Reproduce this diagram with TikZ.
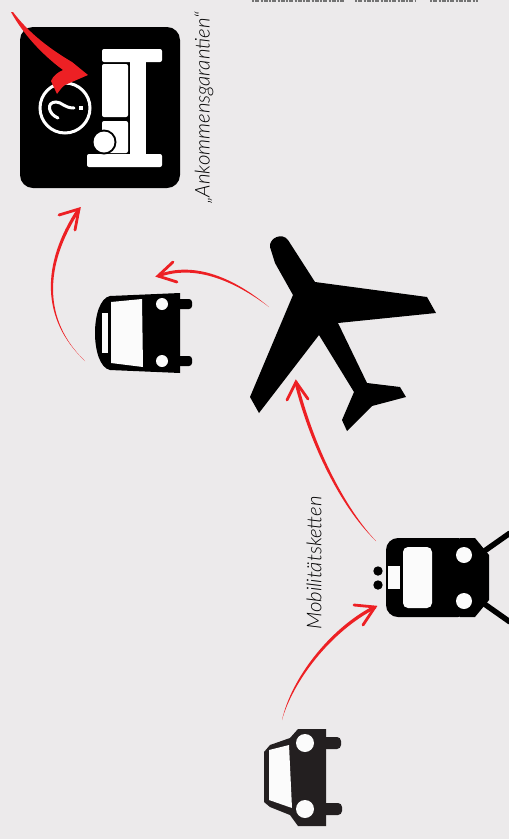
\documentclass[tikz,border=0pt]{standalone}
\usepackage{fontspec}
\newfontfamily\labelfont{Lato}[UprightFont=* Light,ItalicFont=* Light Italic]
\usetikzlibrary{calc}
\definecolor{paper1}{RGB}{236, 234, 235}
\definecolor{red1}{RGB}{237, 32, 36}
\definecolor{ink1}{RGB}{0, 0, 0}
\definecolor{car1}{RGB}{35, 31, 32}
\tikzset{
  icon/.style={fill=ink1},
  cutout/.style={fill=paper1!20!white},
  flow/.style={fill=red1},
  flowhead/.style={draw=red1, line width=2.8pt, line cap=round, line join=miter},
  caption/.style={font=\labelfont\itshape\fontsize{20.4}{20.4}\selectfont, rotate=90, text=black, inner sep=0pt}
}
% tail, two controls, tip, first barb, second barb, half width
\newcommand{\flowarrow}[7]{
  \fill[flow] (#1) .. controls ($#2+0.8*#7$) and ($#3+0.9*#7$) .. ($(#4)+#7$) -- ($(#4)-#7$) .. controls ($#3-0.9*#7$) and ($#2-0.8*#7$) .. (#1);
  \draw[flowhead] (#5) -- (#4) -- (#6);
}
\begin{document}
\begin{tikzpicture}[x=1pt, y=-1pt]
  \useasboundingbox (0,0) rectangle (509,839);
  \fill[paper1] (0,0) rectangle (509,839);

  % cut off line at the top
  \foreach \from/\to in {252/345, 355/415, 430/478}
    \draw[black!55, line width=2.5pt, dash pattern=on 2pt off 1pt on 4pt off 1.5pt] (\from,1) -- (\to,1);

  % arrival box
  \fill[icon] (20,27) [rounded corners=13pt] rectangle (180,188);
  \begin{scope}[cutout/.append style={fill=white}]
    \fill[cutout, rounded corners=2pt] (102,49) rectangle (162,62);
    \fill[cutout] (129.5,60) rectangle (146,156);
    \fill[cutout, rounded corners=2pt] (87,154) rectangle (162,167);
    \fill[cutout, rounded corners=2pt] (102,64) rectangle (128,117);
    \fill[cutout, rounded corners=2pt] (102,121) rectangle (128,153);
    \fill[ink1] (104,142) circle (12.5);
    \fill[cutout] (104,142) circle (10.5);
    \draw[white, line width=3pt] (65,108) circle (25);
    \draw[white, line width=3pt, line cap=round] (58,118) .. controls (48,114) and (46,102) .. (56,102) .. controls (62,102) and (64,108) .. (74,108);
    \fill[white] (79,106) rectangle (83,110);
  \end{scope}

  % bus
  \fill[icon] (180,293) -- (110,296) .. controls (90,300) and (90,366) .. (110,370) -- (180,373) -- cycle;
  \fill[icon, rounded corners=3pt] (175,299) rectangle (192,309);
  \fill[icon, rounded corners=3pt] (175,356) rectangle (192,366);
  \fill[cutout] (111,302) -- (142,299) -- (143,367) -- (111,363) -- cycle;
  \fill[cutout] (102,313) rectangle (108,353);
  \fill[cutout] (162,304) circle (6);
  \fill[cutout] (162,361) circle (6);

  % plane
  \fill[icon] (270,247) .. controls (269,238) and (282,232) .. (288,240) -- (315,282) -- (427,297) -- (436,313)
    -- (338,323) -- (367,383) -- (400,387) -- (406,397) -- (372,406) -- (347,431) -- (342,420) -- (354,392)
    -- (319,335) -- (259,413) -- (250,397) -- (293,295) -- (275,263) -- cycle;

  % train
  \fill[icon, rounded corners=12pt] (386,538) rectangle (470,617);
  \fill[icon] (460,538) -- (475,538) -- (489,555) -- (489,600) -- (475,617) -- (460,617) -- cycle;
  \fill[cutout, rounded corners=5pt] (403,547) rectangle (432,608);
  \fill[cutout] (388,566) rectangle (400,589);
  \fill[cutout] (464,555) circle (8);
  \fill[cutout] (464,601) circle (8);
  \fill[icon] (378,571) circle (4.7);
  \fill[icon] (378,585) circle (4.7);
  \draw[ink1, line width=5.5pt] (483,552) -- (510,533);
  \draw[ink1, line width=5.5pt] (483,603) -- (510,622);

  % car
  \fill[car1] (326,729) -- (298,729) -- (290,738) -- (270,745) -- (264,752) -- (264,802) -- (270,807)
    -- (290,815) -- (298,826) -- (326,826) -- cycle;
  \fill[car1, rounded corners=4pt] (320,737) rectangle (341,749);
  \fill[car1, rounded corners=4pt] (320,803) rectangle (342,815);
  \fill[cutout] (269,750) -- (289,745) -- (292,808) -- (269,800) -- cycle;
  \fill[cutout] (305,743) circle (9);
  \fill[cutout] (305,809) circle (9);

  % arrow ends
  \coordinate (carOut) at (282,720);
  \coordinate (trainIn) at (375,607);
  \coordinate (trainOut) at (376,541);
  \coordinate (planeIn) at (296,382);
  \coordinate (planeOut) at (269,307);
  \coordinate (busIn) at (158,276);
  \coordinate (busOut) at (85,361);
  \coordinate (boxIn) at (79,209);
  \coordinate (stampTail) at (11,12);

  \flowarrow{carOut}{(292,680)}{(330,630)}{trainIn}{354,605}{363,625}{(-1.1,-1.3)}
  \flowarrow{trainOut}{(345,510)}{(313,450)}{planeIn}{287,400}{308,399}{(1.6,-0.5)}
  \flowarrow{planeOut}{(235,280)}{(195,262)}{busIn}{173,262}{177,282}{(-0.2,1.6)}
  \flowarrow{busOut}{(42,320)}{(42,265)}{boxIn}{59,215}{75,230}{(1.4,0.8)}

  % heavy arrow on the box
  \fill[red1] (stampTail) -- (13,12) .. controls (25,28) and (43,45) .. (72,62) -- (88,75) -- (65,85) .. controls (62,87) and (60,90) .. (57,94)
    -- (51,81) .. controls (53,76) and (58,72) .. (63,70) .. controls (40,53) and (22,32) .. (stampTail);

  % labels
  \node[caption] (ankunft) at (204,108) {„Ankommensgarantien“};
  \node[caption] (kette) at (314,563) {Mobilitätsketten};
\end{tikzpicture}
\end{document}
